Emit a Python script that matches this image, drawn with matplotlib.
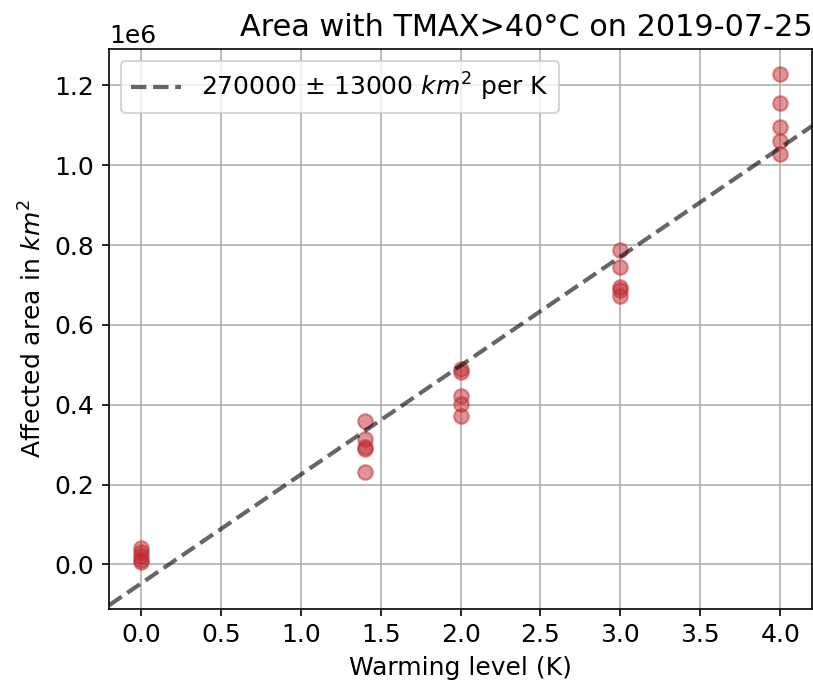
import numpy as np
import matplotlib
matplotlib.use('Agg')
import matplotlib.pyplot as plt

plt.rcParams['font.size'] = 12

# warming levels (K) and affected area (km^2) per model run
levels = [0.0, 1.4, 2.0, 3.0, 4.0]
area_0 = [42000, 30000, 22000, 12000, 5000]
area_14 = [359000, 313000, 293000, 288000, 231000]
area_20 = [490000, 483000, 422000, 402000, 372000]
area_30 = [788000, 744000, 695000, 688000, 673000]
area_40 = [1228000, 1156000, 1097000, 1060000, 1029000]

# fitted line
slope = 273000
intercept = -48000
label_txt = r'270000 $\pm$ 13000 $km^2$ per K'

areas = [area_0, area_14, area_20, area_30, area_40]

fig = plt.figure(figsize=(5.42, 4.58), dpi=150)
ax = fig.add_axes([0.134, 0.114, 0.865, 0.815])

for lev, a in zip(levels, areas):
    ax.plot([lev] * len(a), a, 'o', color='#bf2a2f', alpha=0.5, ms=7, zorder=3)

xx = np.array([-0.2, 4.2])
ax.plot(xx, slope * xx + intercept, '--', color='k', alpha=0.6, lw=2,
        label=label_txt, zorder=4)

ax.set_xlim(-0.2, 4.2)
ax.set_ylim(-0.111e6, 1.292e6)
ax.set_xticks(np.arange(0, 4.01, 0.5))
ax.grid(True)
ax.set_axisbelow(True)
ax.set_xlabel('Warming level (K)')
ax.set_ylabel('Affected area in $km^2$')
ax.set_title('Area with TMAX>40°C on 2019-07-25', loc='right', fontsize=14.5)
ax.legend(loc='upper left')

plt.savefig('out.png', dpi=150)
